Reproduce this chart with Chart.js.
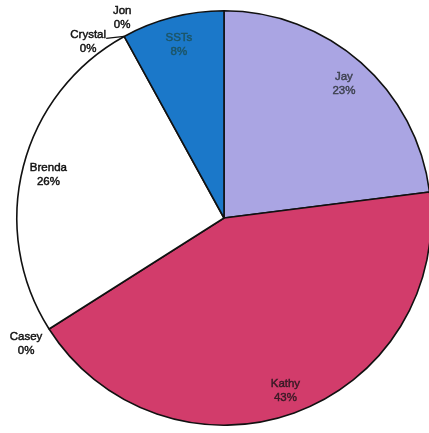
<!DOCTYPE html>
<html>
<head>
<meta charset="utf-8">
<script src="https://cdn.jsdelivr.net/npm/chart.js@4"></script>
<style>
  html, body { margin: 0; padding: 0; background: #fff; overflow: hidden; }
  #wrap { position: absolute; left: 0; top: 0; }
</style>
</head>
<body>
<div id="wrap"><canvas id="pieChart" width="448" height="436"></canvas></div>
<script>
// slices, clockwise from 12 o'clock
const names = ['Jay', 'Kathy', 'Casey', 'Brenda', 'Crystal', 'Jon', 'SSTs'];
const shares = [23, 43, 0, 26, 0, 0, 8];
const sliceColors = ['#aaa5e3', '#d23c6b', '#ffffff', '#ffffff', '#ffffff', '#ffffff', '#1b78c9'];
const labelColors = ['#3e4250', '#3a1a26', '#111', '#111', '#111', '#111', '#1c5566'];

// where labels of empty slices go, relative to the rim point of the slice
const outsideLabels = {
    Casey: { dx: -23, dy: 15 },
    Crystal: { dx: -36, dy: 5.5, lineFrom: [-18, 2] },
    Jon: { dx: -2, dy: -18.5 }
};

const sliceLabels = {
    id: 'sliceLabels',
    afterDatasetsDraw(chart) {
        const ctx = chart.ctx;
        const meta = chart.getDatasetMeta(0);
        ctx.save();
        ctx.font = '11.5px "Liberation Sans", Arial, sans-serif';
        ctx.textAlign = 'center';
        ctx.textBaseline = 'middle';
        meta.data.forEach((arc, i) => {
            const p = arc.getProps(['x', 'y', 'startAngle', 'endAngle', 'outerRadius'], true);
            let lx, ly;
            if (shares[i] > 0) {
                const mid = (p.startAngle + p.endAngle) / 2;
                const r = p.outerRadius * 0.875;
                lx = p.x + Math.cos(mid) * r;
                ly = p.y + Math.sin(mid) * r + 2;
            } else {
                const ex = p.x + Math.cos(p.startAngle) * p.outerRadius;
                const ey = p.y + Math.sin(p.startAngle) * p.outerRadius;
                const o = outsideLabels[names[i]];
                lx = ex + o.dx;
                ly = ey + o.dy;
                if (o.lineFrom) {
                    ctx.strokeStyle = '#111';
                    ctx.lineWidth = 1.2;
                    ctx.beginPath();
                    ctx.moveTo(ex + o.lineFrom[0], ey + o.lineFrom[1]);
                    ctx.lineTo(ex, ey);
                    ctx.stroke();
                }
            }
            // a thin stroke makes the scanned-looking text a bit heavier
            ctx.fillStyle = labelColors[i];
            ctx.strokeStyle = labelColors[i];
            ctx.lineWidth = 0.45;
            ctx.fillText(names[i], lx, ly - 7);
            ctx.strokeText(names[i], lx, ly - 7);
            ctx.fillText(shares[i] + '%', lx, ly + 7);
            ctx.strokeText(shares[i] + '%', lx, ly + 7);
        });
        ctx.restore();
    }
};

new Chart(document.getElementById('pieChart').getContext('2d'), {
    type: 'pie',
    data: {
        labels: names,
        datasets: [{
            data: shares,
            backgroundColor: sliceColors,
            borderColor: '#111',
            borderWidth: 1.6
        }]
    },
    options: {
        responsive: false,
        animation: false,
        layout: { padding: 10 },
        plugins: {
            legend: { display: false },
            tooltip: { enabled: false }
        }
    },
    plugins: [sliceLabels]
});
</script>
</body>
</html>
